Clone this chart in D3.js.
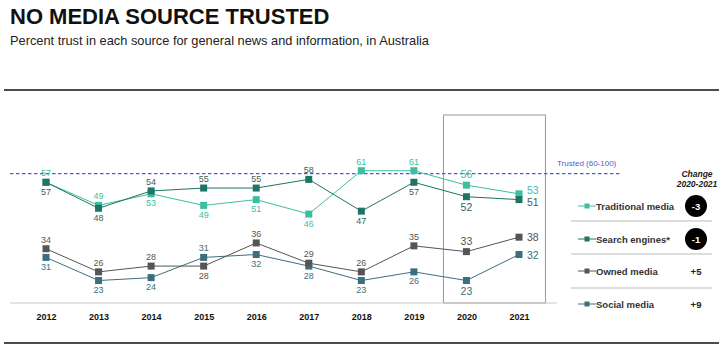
<!DOCTYPE html>
<html>
<head>
<meta charset="utf-8">
<script src="https://cdn.jsdelivr.net/npm/d3@7"></script>
<style>
  body { margin: 0; background: #fff; }
  svg { font-family: "Liberation Sans", Arial, sans-serif; }
</style>
</head>
<body>
<svg id="chart" width="723" height="350"></svg>
<script>
// data
const years = ["2012", "2013", "2014", "2015", "2016", "2017", "2018", "2019", "2020", "2021"];
const traditional = [57, 49, 53, 49, 51, 46, 61, 61, 56, 53];
const search = [57, 48, 54, 55, 55, 58, 47, 57, 52, 51];
const owned = [34, 26, 28, 28, 36, 29, 26, 35, 33, 38];
const social = [31, 23, 24, 31, 32, 28, 23, 26, 23, 32];
// label above (1), below (-1) or right of (0) the marker
const tradPos = [1, 1, -1, -1, -1, -1, 1, 1, 1, 0];
const searchPos = [-1, -1, 1, 1, 1, 1, -1, -1, -1, 0];
const ownedPos = [1, 1, 1, -1, 1, 1, 1, 1, 1, 0];
const socialPos = [-1, -1, -1, 1, -1, -1, -1, -1, -1, 0];
const legendNames = ["Traditional media", "Search engines*", "Owned media", "Social media"];
const changes = ["-3", "-1", "+5", "+9"];
const trustedLine = 60;

const series = [
    { name: legendNames[0], values: traditional, pos: tradPos, color: "#3cbf9f", label: "#3cbf9f", endDy: 0 },
    { name: legendNames[1], values: search, pos: searchPos, color: "#1f7565", label: "#3a5f57", endDy: 6.5 },
    { name: legendNames[2], values: owned, pos: ownedPos, color: "#555555", label: "#555555", endDy: 4 },
    { name: legendNames[3], values: social, pos: socialPos, color: "#3b6f7e", label: "#3b6f7e", endDy: 4 }
];

const svg = d3.select("#chart");

// title
svg.append("text").attr("x", 10).attr("y", 24)
    .style("font-size", "22px").style("font-weight", "bold").attr("fill", "#111")
    .text("NO MEDIA SOURCE TRUSTED");
svg.append("text").attr("x", 10).attr("y", 45)
    .style("font-size", "12.8px").attr("fill", "#222")
    .text("Percent trust in each source for general news and information, in Australia");

// frame lines
svg.append("line").attr("x1", 4).attr("x2", 719).attr("y1", 90).attr("y2", 90)
    .attr("stroke", "#111").attr("stroke-width", 1.5);
svg.append("line").attr("x1", 4).attr("x2", 719).attr("y1", 343).attr("y2", 343)
    .attr("stroke", "#111").attr("stroke-width", 1.5);

const x = d3.scalePoint().domain(years).range([46, 519]);
const y = d3.scaleLinear().domain([0, 100]).range([347, 58]);

// 2020 highlight box
svg.append("rect")
    .attr("x", x("2020") - 23).attr("y", 115)
    .attr("width", 102).attr("height", 303 - 115)
    .attr("fill", "none").attr("stroke", "#999").attr("stroke-width", 1);

// axis line
svg.append("line").attr("x1", 10).attr("x2", 557).attr("y1", 303).attr("y2", 303)
    .attr("stroke", "#c8c8c8").attr("stroke-width", 1);

// year labels
const xAxis = d3.axisBottom(x).tickSize(0).tickPadding(0);
const gx = svg.append("g").attr("transform", "translate(0,314)").call(xAxis);
gx.select(".domain").remove();
gx.selectAll("text")
    .style("font-size", "9px").style("font-weight", "bold")
    .style("font-family", "'Liberation Sans', Arial, sans-serif")
    .attr("fill", "#111");

// trusted dashed line
svg.append("line").attr("x1", 10).attr("x2", 622)
    .attr("y1", y(trustedLine)).attr("y2", y(trustedLine))
    .attr("stroke", "#4a5ed2").attr("stroke-width", 1.2).attr("stroke-dasharray", "3.5,2.5");
svg.append("text").attr("x", 557).attr("y", 166)
    .style("font-size", "8px").attr("fill", "#4a5ed2")
    .text("Trusted (60-100)");

const line = d3.line().x((d, i) => x(years[i])).y(d => y(d));

// draw back-to-front so search engines sits on top at overlaps
[series[3], series[2], series[0], series[1]].forEach(s => {
    svg.append("path").datum(s.values)
        .attr("fill", "none").attr("stroke", s.color).attr("stroke-width", 1)
        .attr("d", line);
    svg.selectAll(null).data(s.values).enter().append("rect")
        .attr("x", (d, i) => x(years[i]) - 3.5)
        .attr("y", d => y(d) - 3.5)
        .attr("width", 7).attr("height", 7)
        .attr("fill", s.color);
});

series.forEach(s => {
    svg.selectAll(null).data(s.values).enter().append("text")
        .attr("x", (d, i) => s.pos[i] === 0 ? x(years[i]) + 8 : x(years[i]))
        .attr("y", (d, i) => {
            const big = i >= 8;
            if (s.pos[i] === 0) return y(d) + s.endDy;
            return s.pos[i] > 0 ? y(d) - (big ? 7 : 6) : y(d) + (big ? 14 : 12.5);
        })
        .attr("text-anchor", (d, i) => s.pos[i] === 0 ? "start" : "middle")
        .style("font-size", (d, i) => i >= 8 ? "10.5px" : "9px")
        .attr("fill", s.label)
        .text(d => d);
});

// legend
const legY = [206, 239, 271, 304];
const sepY = [221, 254, 288];
sepY.forEach(v => {
    svg.append("line").attr("x1", 571).attr("x2", 712).attr("y1", v).attr("y2", v)
        .attr("stroke", "#bbb").attr("stroke-width", 1);
});
svg.append("text").attr("x", 697).attr("y", 177).attr("text-anchor", "middle")
    .style("font-size", "8.5px").style("font-weight", "bold").style("font-style", "italic")
    .attr("fill", "#222").text("Change");
svg.append("text").attr("x", 697).attr("y", 187).attr("text-anchor", "middle")
    .style("font-size", "8.5px").style("font-weight", "bold").style("font-style", "italic")
    .attr("fill", "#222").text("2020-2021");

series.forEach((s, i) => {
    const cy = legY[i];
    svg.append("line").attr("x1", 578).attr("x2", 596).attr("y1", cy).attr("y2", cy)
        .attr("stroke", s.color).attr("stroke-width", 1);
    svg.append("rect").attr("x", 584.5).attr("y", cy - 2.5).attr("width", 5).attr("height", 5)
        .attr("fill", s.color);
    svg.append("text").attr("x", 596).attr("y", cy + 3.5)
        .style("font-size", "9.5px").style("font-weight", "bold").attr("fill", "#333")
        .text(s.name);
    const neg = changes[i].startsWith("-");
    if (neg) {
        svg.append("circle").attr("cx", 696).attr("cy", cy).attr("r", 11).attr("fill", "#000");
    }
    svg.append("text").attr("x", 696).attr("y", cy + 3.5).attr("text-anchor", "middle")
        .style("font-size", "9.5px").style("font-weight", "bold")
        .attr("fill", neg ? "#fff" : "#222")
        .text(changes[i]);
});
</script>
</body>
</html>
